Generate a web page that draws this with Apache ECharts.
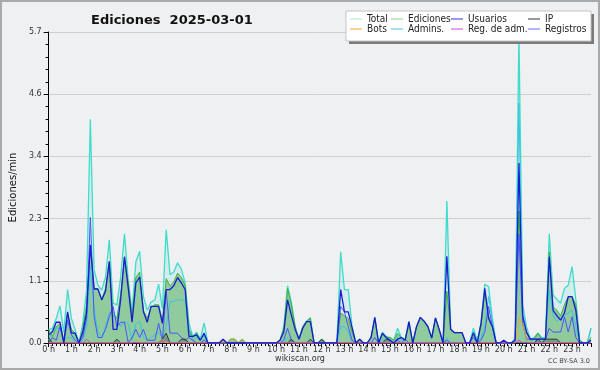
<!DOCTYPE html>
<html>
<head>
<meta charset="utf-8">
<script src="https://cdn.jsdelivr.net/npm/echarts@6/dist/echarts.min.js"></script>
<style>
  html, body { margin: 0; padding: 0; background: #eff0f1; }
  #chart { width: 600px; height: 370px; }
</style>
</head>
<body>
<div id="chart"></div>
<script>
// one value every 10 minutes, 00:00 .. 23:50 (edits per minute)
const total = [
  0.25,0.27,0.45,0.68,0.20,0.98, 0.45,0.24,0.00,0.36,0.97,4.10,
  1.34,1.06,0.97,1.21,1.89,0.73, 0.70,1.21,2.00,1.15,0.57,1.49,
  1.68,0.85,0.60,0.75,0.79,1.08, 0.63,2.08,1.25,1.30,1.47,1.35,
  1.10,0.36,0.12,0.20,0.08,0.37, 0,0,0,0,0.07,0,
  0.07,0.07,0,0.07,0,0, 0,0,0,0,0,0,
  0,0.05,0.30,1.05,0.75,0.30, 0.07,0.30,0.40,0.46,0,0,
  0.07,0,0,0,0,1.67, 0.98,0.98,0.30,0,0.07,0,
  0,0.10,0.47,0,0.20,0.12, 0.10,0.05,0.27,0.10,0.07,0.39,
  0,0.30,0.47,0.40,0.30,0.10, 0.46,0.24,0,2.60,0.25,0.19,
  0.19,0.19,0,0,0.27,0.05, 0.36,1.08,1.03,0.45,0,0,
  0.05,0,0,0.10,5.65,0.70, 0.30,0.07,0.10,0.18,0.10,0.10,
  2.00,0.88,0.80,0.73,1.00,1.06, 1.40,0.80,0.05,0,0,0.27
];
const ediciones = [
  0.25,0.12,0.30,0.35,0.05,0.55, 0.25,0.18,0,0.25,0.70,1.78,
  1.00,0.99,0.80,1.00,1.50,0.50, 0.45,0.90,1.58,1.10,0.45,1.20,
  1.30,0.60,0.45,0.65,0.70,0.70, 0.40,1.18,1.05,1.12,1.28,1.20,
  1.05,0.25,0.10,0.18,0.05,0.15, 0,0,0,0,0.07,0,
  0.07,0.07,0,0.07,0,0, 0,0,0,0,0,0,
  0,0.05,0.25,1.00,0.70,0.30, 0.07,0.30,0.40,0.46,0,0,
  0.07,0,0,0,0,0.55, 0.50,0.45,0.20,0,0.05,0,
  0,0.10,0.45,0,0.15,0.10, 0.10,0.05,0.18,0.10,0.05,0.35,
  0,0.30,0.47,0.40,0.30,0.10, 0.45,0.24,0,0.95,0.25,0.19,
  0.19,0.19,0,0,0.15,0, 0.30,0.95,0.50,0.30,0,0,
  0,0,0,0.05,2.42,0.45, 0.20,0.05,0.07,0.18,0.07,0.07,
  1.67,0.66,0.60,0.50,0.70,0.85, 0.85,0.70,0.05,0,0,0.10
];
const usuarios = [
  0.15,0.20,0.38,0.38,0,0.57, 0.18,0.18,0,0.20,0.55,1.80,
  0.99,0.99,0.79,0.95,1.49,0.25, 0.25,0.80,1.58,1.00,0.38,1.10,
  1.21,0.57,0.38,0.67,0.67,0.67, 0.36,0.98,0.98,1.05,1.20,1.10,
  0.98,0.12,0.12,0.15,0.05,0.18, 0,0,0,0,0.07,0,
  0,0,0,0,0,0, 0,0,0,0,0,0,
  0,0.05,0.20,0.79,0.51,0.25, 0.07,0.27,0.39,0.39,0,0,
  0,0,0,0,0,0.98, 0.57,0.57,0.28,0,0.07,0,
  0,0.10,0.47,0,0.18,0.10, 0.05,0,0.07,0.10,0.05,0.39,
  0,0.30,0.47,0.40,0.30,0.09, 0.46,0.24,0,1.59,0.25,0.19,
  0.19,0.19,0,0,0.19,0, 0.36,1.00,0.45,0.30,0,0,
  0.05,0,0,0.05,3.30,0.50, 0.20,0.07,0.07,0.07,0.07,0.07,
  1.58,0.60,0.50,0.42,0.55,0.85, 0.85,0.60,0,0,0,0.05
];
const registros = [
  0,0.10,0.05,0.30,0,0.42, 0.15,0.05,0,0.10,0.45,2.30,
  0.48,0.10,0.10,0.25,0.48,0.67, 0.30,0.38,0.38,0,0.10,0.25,
  0.10,0.25,0.05,0.05,0.05,0.36, 0.05,0.95,0.18,0.18,0.18,0.10,
  0.05,0.10,0.05,0,0,0.05, 0,0,0,0,0,0,
  0,0,0,0,0,0, 0,0,0,0,0,0,
  0,0,0.05,0.27,0.05,0, 0,0,0,0,0,0,
  0,0,0,0,0,0.67, 0.57,0.30,0.05,0,0,0,
  0,0,0.10,0,0,0, 0,0,0.05,0,0.07,0,
  0,0,0,0,0,0, 0,0,0,0.05,0,0,
  0,0,0,0,0.10,0, 0.05,0.20,0.67,0.30,0,0,
  0,0,0,0.05,2.00,0.35, 0.07,0.07,0.07,0.07,0.07,0.07,
  0.27,0.20,0.20,0.20,0.48,0.20, 0.48,0.10,0,0,0,0
];
const admins = [
  0.05,0.25,0.27,0.27,0.05,0.10, 0.10,0,0,0.05,0.30,1.40,
  0.60,0.20,0.10,0.30,0.55,0.57, 0.45,0.30,0.40,0.35,0.05,0.35,
  0.40,0.10,0.05,0.10,0.15,0.20, 0.10,0.30,0.76,0.76,0.79,0.79,
  0.79,0.20,0.05,0.10,0.05,0.15, 0,0,0,0,0,0,
  0,0,0,0,0,0, 0,0,0,0,0,0,
  0,0,0,0.10,0,0, 0,0,0,0,0,0,
  0,0,0,0,0,0.30, 0.30,0.20,0,0,0,0,
  0,0,0,0,0.05,0.10, 0.05,0,0.10,0.05,0,0,
  0,0,0,0,0,0, 0,0,0,0.10,0,0,
  0,0,0,0,0.20,0, 0.10,0.30,0.85,0.40,0,0,
  0,0,0,0,4.40,0.40, 0,0,0.07,0,0,0.10,
  0.97,0.50,0.40,0.45,0.50,0.55, 0.60,0.30,0,0,0,0.27
];
const ip = [
  0.10,0,0,0,0,0, 0,0,0,0,0,0,
  0,0,0,0,0,0, 0.07,0,0,0,0,0,
  0,0,0,0,0,0, 0.07,0.18,0,0,0,0.07,
  0.07,0,0,0,0,0, 0,0,0,0,0,0,
  0,0,0,0,0,0, 0,0,0,0,0,0,
  0,0,0,0,0.07,0, 0,0,0,0.07,0,0,
  0.07,0,0,0,0,0, 0,0,0,0,0,0,
  0,0,0,0,0,0.07, 0.05,0,0,0,0,0,
  0,0,0,0,0,0, 0,0,0,0,0,0,
  0,0,0,0,0,0, 0,0,0,0,0,0,
  0,0,0,0,0,0, 0,0,0,0.07,0,0.07,
  0.07,0.07,0.07,0,0,0, 0,0,0,0,0,0
];
const bots = [
  0,0,0,0,0,0, 0,0,0,0,0,0,
  0,0,0,0,0,0, 0,0,0,0,0,0.07,
  0,0,0,0,0,0, 0.07,0,0,0,0,0,
  0,0,0,0,0,0, 0,0,0,0,0,0,
  0.07,0.07,0,0.07,0,0, 0,0,0,0,0,0,
  0,0,0,0,0,0, 0,0,0,0,0,0,
  0,0,0,0,0,0, 0,0,0,0,0,0,
  0,0,0,0,0,0, 0,0,0,0,0,0,
  0,0,0,0,0,0, 0,0,0,0,0,0,
  0,0,0,0,0,0, 0,0,0,0,0,0,
  0,0,0,0,0.45,0.35, 0.05,0,0,0,0,0,
  0,0,0,0,0,0, 0,0,0,0,0,0
];
const regAdm = [
  0,0,0,0,0,0, 0,0,0,0,0.07,0,
  0,0,0,0,0,0, 0,0,0,0,0,0,
  0,0,0,0,0,0, 0,0.07,0,0,0,0,
  0,0,0,0,0,0, 0,0,0,0,0,0,
  0,0,0,0,0,0, 0,0,0,0,0,0,
  0,0,0,0,0,0, 0,0,0,0,0,0,
  0,0,0,0,0,0, 0,0,0,0,0,0,
  0,0,0,0,0,0, 0,0,0,0,0,0,
  0,0,0,0,0,0, 0,0,0,0,0,0,
  0,0,0,0,0,0, 0,0,0,0,0,0,
  0,0,0,0,0.05,0, 0,0,0,0,0,0,
  0,0,0,0,0,0, 0,0,0,0,0,0
];
const yTicks = [0, 1.14, 2.28, 3.42, 4.56, 5.7];

const chart = echarts.init(document.getElementById("chart"));

// slot i sits at i/6 hours
function pts(arr) {
  return arr.map((v, i) => [i / 6, v]);
}

function lineSerie(name, data, color, width, area, z) {
  const s = {
    name: name,
    type: "line",
    data: pts(data),
    symbol: "none",
    z: z,
    lineStyle: { color: color, width: width },
    itemStyle: { color: color },
    emphasis: { disabled: true },
  };
  if (area) s.areaStyle = { color: area, opacity: 1 };
  return s;
}

const font = "DejaVu Sans";
const legendFont = "'DejaVu Sans Condensed', 'DejaVu Sans'";

function legendItem(name, color, left, top) {
  return {
    data: [{ name: name, icon: "rect", itemStyle: { color: color } }],
    left: left,
    top: top,
    z: 40,
    padding: 0,
    itemWidth: 12,
    itemHeight: 1,
    itemGap: 0,
    selectedMode: false,
    textStyle: { fontFamily: legendFont, fontSize: 10, color: "#222", padding: [0, 0, 0, 0] },
  };
}

chart.setOption({
  animation: false,
  backgroundColor: "#eff0f1",
  title: {
    text: "Ediciones  2025-03-01",
    left: 86,
    top: 9,
    textStyle: { fontFamily: font, fontSize: 13, fontWeight: "bold", color: "#111" },
  },
  legend: [
    legendItem("Total", "#a8e6e2", 350, 14),
    legendItem("Ediciones", "#8ccc8c", 391, 14),
    legendItem("Usuarios", "#3030e0", 451, 14),
    legendItem("IP", "#333333", 528, 14),
    legendItem("Bots", "#f0a030", 350, 24),
    legendItem("Admins.", "#40c4e0", 391, 24),
    legendItem("Reg. de adm.", "#d040e0", 451, 24),
    legendItem("Registros", "#6666ff", 528, 24),
  ],
  graphic: [
    { type: "rect", z: -10, shape: { x: 1, y: 1, width: 598, height: 368 },
      style: { fill: "none", stroke: "#a9a9a9", lineWidth: 2 } },
    { type: "rect", z: 20, shape: { x: 349, y: 14, width: 245, height: 30 },
      style: { fill: "#7a7a7a" } },
    { type: "rect", z: 21, shape: { x: 346, y: 11, width: 245, height: 30 },
      style: { fill: "#ffffff", stroke: "#c4c4c4", lineWidth: 1 } },
    { type: "text", left: "center", top: 355,
      style: { text: "wikiscan.org", font: "8px " + font, fill: "#333" } },
    { type: "text", right: 10, top: 358,
      style: { text: "CC BY-SA 3.0", font: "6.5px " + font, fill: "#444" } },
  ],
  grid: { left: 45, right: 9, top: 32, bottom: 27 },
  xAxis: {
    type: "value",
    min: 0,
    max: 143 / 6,
    interval: 1,
    axisLine: { show: true, lineStyle: { color: "#000", width: 1 } },
    axisTick: { show: true, length: 4, lineStyle: { color: "#000" } },
    minorTick: { show: true, splitNumber: 6, length: 3, lineStyle: { color: "#000" } },
    splitLine: { show: false },
    axisLabel: {
      fontFamily: font,
      fontSize: 8,
      color: "#333",
      margin: 3,
      formatter: (v) => (Math.abs(v - Math.round(v)) < 1e-6 ? Math.round(v) + " h" : ""),
    },
  },
  yAxis: {
    type: "value",
    min: 0,
    max: 5.7,
    interval: 1.14,
    name: "Ediciones/min",
    nameLocation: "middle",
    nameGap: 30,
    nameRotate: 90,
    nameTextStyle: { fontFamily: font, fontSize: 10, color: "#111" },
    axisLine: { show: true, lineStyle: { color: "#000", width: 1 } },
    axisTick: { show: true, length: 5, lineStyle: { color: "#000" } },
    minorTick: { show: true, splitNumber: 5, length: 3, lineStyle: { color: "#000" } },
    splitLine: { show: true, lineStyle: { color: "#cfcfcf", width: 1 } },
    axisLabel: {
      fontFamily: font,
      fontSize: 8,
      color: "#333",
      margin: 7,
      formatter: (v) => {
        const t = yTicks.find((y) => Math.abs(y - v) < 1e-6);
        return (t === undefined ? v : t).toFixed(1);
      },
    },
  },
  series: [
    lineSerie("Total", total, "#3fdccc", 1.3, "rgba(120,225,215,0.22)", 1),
    lineSerie("Ediciones", ediciones, "#3fae3f", 1, "rgba(60,165,60,0.45)", 2),
    lineSerie("Admins.", admins, "#38c4e2", 1, null, 3),
    lineSerie("Registros", registros, "#5050ff", 1, null, 4),
    lineSerie("IP", ip, "#333333", 1, "rgba(60,60,60,0.3)", 5),
    lineSerie("Bots", bots, "#f0a030", 1, null, 6),
    lineSerie("Reg. de adm.", regAdm, "#d040e0", 1, null, 7),
    lineSerie("Usuarios", usuarios, "#1a1ad0", 1.3, null, 8),
  ],
});
</script>
</body>
</html>
